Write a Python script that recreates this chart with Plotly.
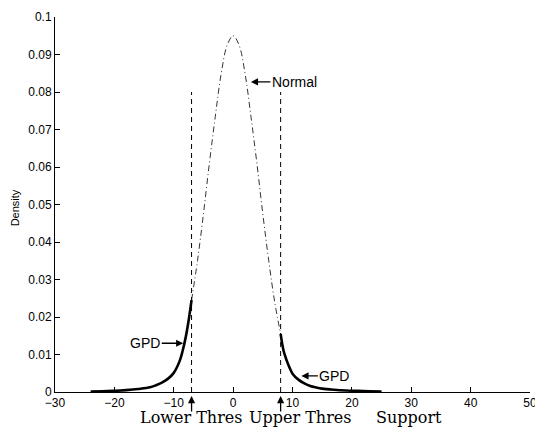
import plotly.graph_objects as go

# Data
lower_threshold = -7
upper_threshold = 8
threshold_top = 0.08

normal_x = [-7, -6, -5, -4, -3, -2, -1, 0, 1, 2, 3, 4, 5, 6, 7, 8]
normal_y = [0.0245, 0.035, 0.0475, 0.061, 0.0735, 0.085, 0.0925, 0.095,
            0.0925, 0.085, 0.0735, 0.061, 0.0475, 0.035, 0.024, 0.0155]

lower_gpd_x = [-24, -22, -20, -18, -16, -14, -13, -12, -11, -10, -9, -8.5, -8, -7.5, -7]
lower_gpd_y = [0.0001, 0.0002, 0.0003, 0.0005, 0.0008, 0.00125, 0.0018, 0.0025,
               0.0035, 0.0051, 0.0083, 0.011, 0.0145, 0.019, 0.0245]

upper_gpd_x = [8, 8.5, 9, 9.5, 10, 11, 12, 13, 14, 15, 17, 19, 21, 23, 25]
upper_gpd_y = [0.0155, 0.011, 0.0085, 0.0065, 0.0049, 0.0033, 0.0023, 0.0016,
               0.0012, 0.0009, 0.0006, 0.0004, 0.0003, 0.0002, 0.0001]

x_ticks = [-30, -20, -10, 0, 10, 20, 30, 40, 50]
y_ticks = [0, 0.01, 0.02, 0.03, 0.04, 0.05, 0.06, 0.07, 0.08, 0.09, 0.1]

fig = go.Figure()

fig.add_trace(go.Scatter(x=normal_x, y=normal_y, mode="lines", line_shape="spline",
                         line=dict(color="black", width=0.8, dash="6px,3px,1px,3px")))
fig.add_trace(go.Scatter(x=lower_gpd_x, y=lower_gpd_y, mode="lines", line_shape="spline",
                         line=dict(color="black", width=2.6)))
fig.add_trace(go.Scatter(x=upper_gpd_x, y=upper_gpd_y, mode="lines", line_shape="spline",
                         line=dict(color="black", width=2.6)))
for t in (lower_threshold, upper_threshold):
    fig.add_trace(go.Scatter(x=[t, t], y=[0, threshold_top], mode="lines",
                             line=dict(color="black", width=1, dash="5px,4px")))

sans = "Liberation Sans, Arial, sans-serif"
serif = "DejaVu Serif, serif"
annots = []

def arrow(x, y, ax, ay, xref="x", yref="y"):
    annots.append(dict(x=x, y=y, xref=xref, yref=yref, ax=ax, ay=ay, text="",
                       showarrow=True, arrowhead=2, arrowsize=1.1, arrowwidth=1.3,
                       arrowcolor="black"))

arrow(3.0, 0.0827, 21, 0)
annots.append(dict(x=3.0, y=0.0827, xref="x", yref="y", xshift=19, text="Normal",
                   showarrow=False, xanchor="left", font=dict(family=sans, size=14, color="black")))

arrow(-8.4, 0.013, -23, 0)
annots.append(dict(x=-8.4, y=0.013, xref="x", yref="y", xshift=-21, text="GPD",
                   showarrow=False, xanchor="right", font=dict(family=sans, size=14, color="black")))

arrow(11.5, 0.0043, 18, 0)
annots.append(dict(x=11.5, y=0.0043, xref="x", yref="y", xshift=16, text="GPD",
                   showarrow=False, xanchor="left", font=dict(family=sans, size=14, color="black")))

for t in (lower_threshold, upper_threshold):
    arrow(t, -0.0107, 0, 17, xref="x", yref="paper")

for txt, xv in (("Lower Thres", -7.1), ("Upper Thres", 11.3), ("Support", 29.7)):
    annots.append(dict(x=xv, y=-0.068, xref="x", yref="paper", text=txt, showarrow=False,
                       xanchor="center", yanchor="middle",
                       font=dict(family=serif, size=16, color="black")))

annots.append(dict(x=-0.084, y=0.49, xref="paper", yref="paper", text="Density",
                   showarrow=False, textangle=-90, xanchor="center", yanchor="middle",
                   font=dict(family=sans, size=11, color="black")))

fig.update_layout(
    width=535, height=429,
    margin=dict(l=55, r=5, t=17, b=37, autoexpand=False),
    paper_bgcolor="white", plot_bgcolor="white",
    showlegend=False,
    annotations=annots,
    xaxis=dict(range=[-30, 50], tickvals=x_ticks, ticks="inside", ticklen=5,
               tickcolor="black", showline=True, linecolor="black", linewidth=1,
               showgrid=False, zeroline=False, mirror=False, automargin=False,
               ticklabeloverflow="allow",
               tickfont=dict(family=sans, size=12, color="black")),
    yaxis=dict(range=[0, 0.1], tickvals=y_ticks, ticks="inside", ticklen=5,
               tickcolor="black", showline=True, linecolor="black", linewidth=1,
               showgrid=False, zeroline=False, mirror=False, automargin=False,
               ticklabeloverflow="allow",
               tickfont=dict(family=sans, size=12, color="black")),
)

fig.write_html("out.html", config={"displayModeBar": False},
               post_script="document.body.style.margin='0';")
